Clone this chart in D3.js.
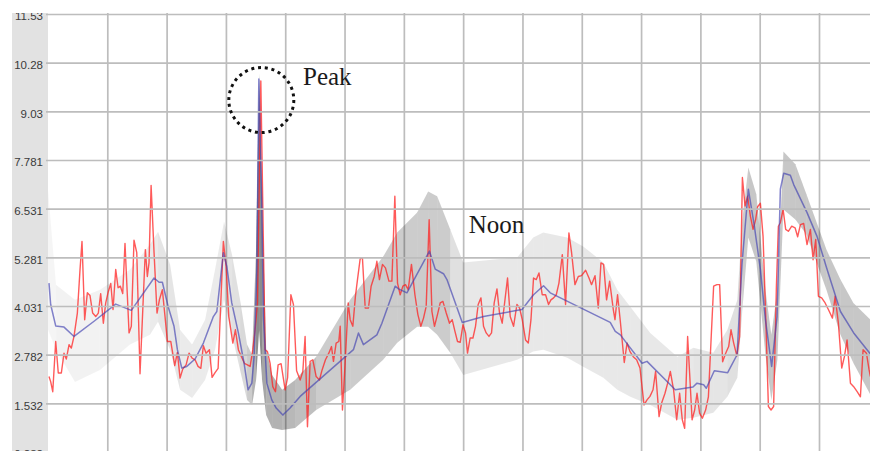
<!DOCTYPE html>
<html>
<head>
<meta charset="utf-8">
<script src="https://cdn.jsdelivr.net/npm/d3@7"></script>
<style>
  body { margin: 0; background: #fff; }
  #chart svg { display: block; }
  .note { font-family: "Liberation Serif", "Times New Roman", serif; font-size: 25px; fill: #1a1a1a; }
</style>
</head>
<body>
<div id="chart"></div>
<script>
// y axis tick labels (as printed on the chart)
const yTickLabels = ["0.282", "1.532", "2.782", "4.031", "5.281", "6.531", "7.781", "9.03", "10.28", "11.53"];

// raw readings (red) - time in minutes from start of the window
const redTimes = [
  1.0, 2.7, 4.8, 7.8, 10.4, 13.5, 16.2, 18.5, 21.3, 23.6,
  26.3, 29.7, 32.4, 34.4, 37.1, 39.8, 42.5, 45.2, 48.3, 50.9,
  53.3, 56.0, 58.4, 60.7, 63.5, 65.8, 68.5, 70.9, 73.2, 75.6,
  77.9, 79.7, 82.0, 84.3, 87.0, 89.8, 93.1, 95.9, 98.5, 100.5,
  102.2, 104.3, 107.3, 110.3, 112.7, 115.7, 118.4, 120.8, 124.2,
  128.2, 130.9, 133.6, 136.3, 139.7, 142.7, 145.8, 148.8, 151.8, 154.6,
  157.2, 159.9, 163.3, 166.0, 169.0, 172.1, 174.8, 177.4, 180.2, 182.9,
  187.0, 189.6, 192.6, 195.7, 198.7, 201.7, 204.5, 207.2, 209.5, 211.9,
  215.3, 219.6, 222.0, 224.7, 227.4, 230.1, 232.8, 235.8, 239.9, 242.4,
  245.7, 248.3, 251.5, 255.1, 257.8, 260.1, 262.5, 265.2, 267.9, 271.3,
  274.6, 277.3, 280.7, 284.1, 286.8, 288.8, 291.5, 294.2, 295.6, 297.9,
  300.6, 303.7, 305.7, 308.4, 311.0, 313.1, 315.8, 318.1, 320.9, 324.2,
  326.9, 330.0, 332.7, 335.3, 338.4, 341.4, 344.9, 347.9, 350.9, 353.6,
  356.3, 359.0, 361.7, 364.4, 367.7, 371.2, 374.2, 377.2, 379.9, 382.6,
  385.6, 388.4, 391.0, 394.0, 396.8, 399.5, 402.9, 406.2, 408.9, 411.7,
  414.3, 417.0, 419.8, 422.4, 424.4, 427.1, 429.9, 432.5, 435.2, 438.0,
  440.6, 443.3, 446.1, 448.7, 451.4, 454.2, 456.8, 459.5, 462.3, 464.9,
  467.6, 471.0, 474.4, 477.1, 479.8, 483.1, 485.9, 488.6, 491.2, 494.0,
  496.7, 500.0, 503.4, 506.4, 508.8, 511.5, 514.2, 516.9, 520.3, 523.6,
  527.0, 529.7, 533.1, 536.5, 539.8, 543.9, 547.3, 549.9, 553.4, 556.7,
  559.4, 562.1, 565.1, 568.2, 571.9, 573.6, 576.2, 579.0, 583.0, 585.8,
  588.8, 592.1, 595.5, 598.9, 603.0, 606.0, 609.0, 612.1, 614.7, 618.2,
  620.8, 624.2, 626.9, 629.6, 632.9, 636.0, 639.0, 641.7, 644.1, 647.1,
  649.1, 651.6, 654.2, 656.6, 659.2, 662.0, 665.3, 668.1, 670.8, 673.4,
  676.7, 679.5, 682.5, 685.6, 688.6, 691.0, 693.7, 696.9, 699.7, 702.5,
  705.2, 707.8, 710.6, 713.3, 715.9, 717.9, 720.7, 723.4, 726.1, 728.8,
  731.5, 734.1, 736.9, 738.9, 740.9, 743.7, 746.3, 749.0, 752.4, 755.8,
  758.4, 761.2, 764.5, 767.9, 771.3, 774.0, 776.7, 779.4, 782.7, 786.2,
  789.5, 793.6, 796.3, 799.6, 803.0, 805.7, 808.4, 811.8, 815.1, 818.6,
  821.9, 824.6, 828.0, 830.7, 832.0
];
const redValues = [
  2.22, 2.09, 1.83, 3.12, 2.31, 2.31, 2.82, 2.67, 3.04, 2.95,
  3.25, 3.85, 4.97, 5.69, 3.68, 4.37, 4.30, 3.85, 3.76, 3.85,
  4.35, 3.59, 4.11, 4.37, 4.61, 3.94, 4.97, 4.50, 4.54, 4.35,
  5.64, 4.62, 3.34, 3.51, 5.72, 5.40, 2.29, 3.94, 5.48, 4.79,
  5.14, 7.13, 5.40, 3.85, 4.19, 4.45, 3.76, 3.12, 3.12,
  2.50, 2.84, 2.18, 2.41, 2.52, 2.82, 2.69, 2.65, 2.48, 2.43,
  3.01, 2.82, 2.91, 2.20, 2.32, 2.43, 4.11, 5.69, 5.05, 3.76,
  3.08, 3.42, 2.91, 2.73, 2.56, 2.52, 2.48, 2.91, 3.42, 4.11,
  9.81, 2.91, 2.86, 2.56, 1.96, 1.83, 2.52, 2.55, 1.88, 2.19,
  4.32, 4.07, 2.37, 2.13, 2.35, 3.25, 0.93, 2.61, 2.65, 2.22,
  2.13, 2.39, 2.65, 2.82, 2.99, 2.61, 3.08, 3.12, 3.51, 1.36,
  2.56, 4.11, 3.68, 3.51, 4.28, 4.71, 5.24, 5.27, 3.98, 3.98,
  4.54, 4.79, 5.18, 4.71, 5.10, 5.01, 4.67, 4.67, 6.85, 4.62,
  4.32, 4.54, 4.58, 4.45, 5.10, 4.32, 3.81, 3.51, 3.72, 4.02,
  6.25, 3.89, 3.51, 3.81, 4.11, 4.15, 3.85, 3.59, 3.68, 3.38,
  3.12, 3.10, 3.55, 3.34, 2.82, 3.21, 3.21, 3.51, 4.07, 4.24,
  3.51, 3.34, 3.25, 3.34, 4.11, 4.47, 3.85, 3.59, 4.19, 4.75,
  3.76, 3.51, 4.07, 3.98, 3.68, 3.16, 3.08, 3.68, 4.75, 4.71,
  4.88, 4.32, 4.32, 4.07, 4.19, 4.24, 4.32, 4.62, 5.35, 4.07,
  5.91, 5.40, 4.58, 4.79, 4.81, 4.95, 4.75, 4.58, 4.81, 3.98,
  5.14, 5.10, 4.19, 4.67, 3.94, 3.68, 4.32, 3.64, 2.58, 3.08,
  2.86, 2.73, 2.65, 2.44, 1.49, 1.62, 1.71, 1.88, 2.35, 1.19,
  1.54, 1.79, 2.05, 2.35, 1.88, 1.11, 1.79, 1.11, 0.89, 3.25,
  2.31, 1.11, 1.36, 1.79, 1.28, 1.15, 1.36, 1.70, 3.16, 4.54,
  4.58, 4.58, 2.60, 2.82, 2.99, 3.42, 3.08, 2.75, 3.25, 7.33,
  6.60, 6.85, 6.34, 6.00, 6.25, 6.58, 6.67, 5.82, 3.76, 1.45,
  1.36, 1.45, 4.54, 6.08, 6.17, 6.51, 6.00, 5.95, 6.08, 6.04,
  5.81, 6.12, 6.15, 5.61, 6.00, 5.22, 5.74, 4.28, 4.24, 4.11,
  3.94, 3.72, 4.28, 3.59, 2.44, 2.73, 3.16, 2.05, 1.96, 1.83,
  1.70, 2.91, 2.82, 2.39, 2.22
];

// smoothed trend (blue)
const blueTimes = [
  1.0, 2.7, 7.8, 16.2, 26.3, 46.6, 68.5, 84.3, 107.3, 112.4,
  115.7, 121.5, 127.5, 130.9, 135.3, 140.4, 148.8, 157.2, 167.3, 170.8,
  177.4, 180.9, 185.9, 192.6, 198.4, 202.4, 206.2, 208.5, 211.3, 213.3,
  216.3, 217.9, 221.4, 226.4, 230.8, 237.6, 244.9, 255.1, 309.0, 314.1,
  319.1, 332.7, 337.8, 351.2, 354.6, 363.1, 385.9, 391.7, 400.1, 403.6,
  419.1, 440.6, 479.5, 491.2, 501.3, 508.1, 568.8, 573.9, 579.0, 601.0,
  606.0, 634.6, 652.5, 656.6, 663.3, 666.0, 674.1, 687.6, 697.1, 702.2,
  708.5, 714.6, 720.7, 725.8, 732.1, 737.6, 740.9, 744.3, 751.0, 754.4,
  767.9, 778.0, 788.2, 801.7, 815.1, 832.0
];
const blueValues = [
  4.62, 4.07, 3.52, 3.49, 3.25, 3.64, 4.08, 3.92, 4.75, 4.64,
  4.64, 4.02, 3.51, 2.91, 2.44, 2.48, 2.67, 3.08, 3.76, 3.89,
  5.40, 5.05, 4.11, 3.34, 2.56, 1.88, 2.05, 2.73, 4.97, 9.86,
  6.68, 3.76, 2.05, 1.62, 1.41, 1.23, 1.41, 1.71, 2.91, 3.34,
  3.04, 3.29, 3.59, 4.54, 4.47, 4.37, 5.44, 4.98, 4.86, 4.71,
  3.61, 3.76, 3.94, 4.32, 4.55, 4.37, 3.61, 3.38, 3.29, 2.56,
  2.61, 1.88, 1.95, 2.05, 2.01, 1.92, 2.37, 2.32, 2.78, 5.14,
  7.03, 6.08, 4.97, 3.68, 2.48, 3.76, 7.03, 7.44, 7.39, 7.15,
  6.43, 5.82, 4.97, 3.89, 3.34, 2.80
];

// spread band round the trend, with how strong each stretch is shaded
const bandTimes = [
  0, 8.1, 27.3, 52.6, 83.0, 103.2, 111.3, 123.5, 133.6, 145.8,
  158.9, 169.0, 178.1, 186.2, 194.3, 201.4, 206.5, 210.5, 213.6, 216.6,
  220.7, 226.7, 236.9, 250.0, 271.3, 305.7, 339.1, 353.3, 373.5, 384.6,
  393.7, 406.9, 420.1, 474.7, 490.9, 501.0, 525.3, 541.5, 561.8, 575.9,
  589.1, 609.3, 636.7, 652.9, 673.1, 687.3, 697.4, 702.5, 708.5, 716.6,
  725.8, 731.8, 737.9, 744.0, 756.1, 767.3, 787.5, 801.7, 814.8, 832.0
];
const bandHigh = [
  7.03, 4.58, 4.19, 4.45, 4.97, 5.61, 5.94, 5.10, 3.42, 3.04,
  3.68, 4.97, 6.20, 5.35, 4.19, 3.04, 2.78, 5.48, 9.99, 6.77,
  2.91, 2.26, 1.88, 2.13, 2.73, 4.19, 5.30, 5.92, 6.43, 6.97,
  6.85, 6.00, 5.15, 5.28, 5.79, 5.92, 5.79, 5.56, 5.15, 4.45,
  4.01, 3.34, 2.73, 2.96, 2.83, 3.42, 4.19, 6.25, 7.59, 6.90,
  4.45, 3.29, 4.45, 8.00, 7.67, 6.90, 5.48, 4.71, 4.11, 3.68
];
const bandLow = [
  3.42, 2.91, 2.08, 2.39, 3.04, 3.29, 3.63, 2.91, 1.88, 1.67,
  2.13, 2.91, 4.19, 3.29, 2.39, 1.62, 1.49, 2.13, 3.42, 2.13,
  1.23, 0.90, 0.85, 0.90, 1.36, 1.88, 2.65, 3.09, 3.50, 3.50,
  3.29, 2.83, 2.26, 2.65, 2.86, 2.91, 2.70, 2.47, 2.19, 1.88,
  1.70, 1.49, 1.11, 1.16, 1.29, 1.70, 2.19, 3.94, 5.79, 5.17,
  2.78, 1.62, 2.65, 6.51, 6.25, 5.87, 4.45, 3.29, 2.57, 1.75
];
const bandShade = [
  0.04, 0.05, 0.05, 0.05, 0.06, 0.08, 0.10, 0.10, 0.08, 0.08,
  0.08, 0.08, 0.10, 0.12, 0.15, 0.20, 0.30, 0.45, 0.45, 0.35,
  0.30, 0.30, 0.28, 0.25, 0.20, 0.20, 0.20, 0.20, 0.20, 0.20,
  0.20, 0.12, 0.09, 0.09, 0.09, 0.09, 0.09, 0.09, 0.09, 0.09,
  0.09, 0.09, 0.09, 0.10, 0.10, 0.12, 0.15, 0.20, 0.22, 0.22,
  0.22, 0.22, 0.22, 0.22, 0.22, 0.22, 0.22, 0.22, 0.22, 0.22
];

function drawChart() {
    const width = 870;
    const height = 451;
    const left = 48;      // where the plot starts (right edge of the tick panel)
    const top = 13;       // top of the visible plot

    const svg = d3.select("#chart")
        .append("svg")
        .attr("width", width)
        .attr("height", height);

    // scales
    const x = d3.scaleLinear().domain([0, 832]).range([left, 870.4]);
    const y = d3.scaleLinear().domain([0.282, 11.53]).range([452, 14]);

    const defs = svg.append("defs");
    defs.append("clipPath").attr("id", "plotClip")
        .append("rect").attr("x", left).attr("y", top)
        .attr("width", width - left).attr("height", height - top);
    defs.append("clipPath").attr("id", "panelClip")
        .append("rect").attr("x", 0).attr("y", top)
        .attr("width", width).attr("height", height - top);

    // grey panel behind the y labels
    svg.append("rect")
        .attr("x", 12).attr("y", top)
        .attr("width", left - 12).attr("height", height - top)
        .attr("fill", "#e2e2e2");

    const plot = svg.append("g").attr("clip-path", "url(#plotClip)");

    // vertical grid (hourly)
    const xGrid = plot.append("g")
        .attr("transform", `translate(0, 452)`)
        .call(d3.axisBottom(x).tickValues(d3.range(60, 832, 60)).tickSize(-(452 - top)).tickFormat(""));
    xGrid.select(".domain").remove();
    xGrid.selectAll("line").attr("stroke", "#bdbdbd").attr("stroke-width", 1.7);

    // horizontal grid + labels
    const yAxis = svg.append("g")
        .attr("clip-path", "url(#panelClip)")
        .append("g")
        .attr("transform", `translate(${left}, 0)`)
        .call(d3.axisLeft(y)
            .tickValues(yTickLabels.map(Number))
            .tickSize(-(width - left))
            .tickPadding(5)
            .tickFormat((d, i) => yTickLabels[i]));
    yAxis.select(".domain").remove();
    yAxis.selectAll("line")
        .attr("x1", -2)
        .attr("stroke", "#bdbdbd")
        .attr("stroke-width", 1.7);
    yAxis.selectAll("text")
        .attr("font-family", "'Liberation Sans', Arial, sans-serif")
        .attr("font-size", "11.5px")
        .attr("fill", "#3a3a3a")
        .attr("dy", "0.5em");

    // shaded band, one piece per stretch so the shade can change
    const band = d3.area()
        .x(i => x(bandTimes[i]))
        .y0(i => y(bandLow[i]))
        .y1(i => y(bandHigh[i]));
    const bandG = plot.append("g");
    for (let i = 0; i < bandTimes.length - 1; i++) {
        bandG.append("path")
            .attr("d", band([i, i + 1]))
            .attr("fill", "#000")
            .attr("fill-opacity", bandShade[i]);
    }

    // raw readings
    const redLine = d3.line()
        .x(i => x(redTimes[i]))
        .y(i => y(redValues[i]));
    plot.append("path")
        .attr("d", redLine(d3.range(redTimes.length)))
        .attr("fill", "none")
        .attr("stroke", "#ff1a1a")
        .attr("stroke-opacity", 0.72)
        .attr("stroke-width", 1.4)
        .attr("stroke-linejoin", "round");

    // smoothed trend
    const blueLine = d3.line()
        .x(i => x(blueTimes[i]))
        .y(i => y(blueValues[i]));
    plot.append("path")
        .attr("d", blueLine(d3.range(blueTimes.length)))
        .attr("fill", "none")
        .attr("stroke", "#4040b0")
        .attr("stroke-opacity", 0.65)
        .attr("stroke-width", 1.5)
        .attr("stroke-linejoin", "round");

    // annotations
    svg.append("circle")
        .attr("cx", x(215.8))
        .attr("cy", y(9.32))
        .attr("r", 32.5)
        .attr("fill", "none")
        .attr("stroke", "#111")
        .attr("stroke-width", 3)
        .attr("stroke-dasharray", "3,3.8");

    svg.append("text")
        .attr("class", "note")
        .attr("x", x(258.0))
        .attr("y", y(9.71))
        .text("Peak");

    svg.append("text")
        .attr("class", "note")
        .attr("x", x(425.6))
        .attr("y", y(5.90))
        .text("Noon");
}

drawChart();
</script>
</body>
</html>
